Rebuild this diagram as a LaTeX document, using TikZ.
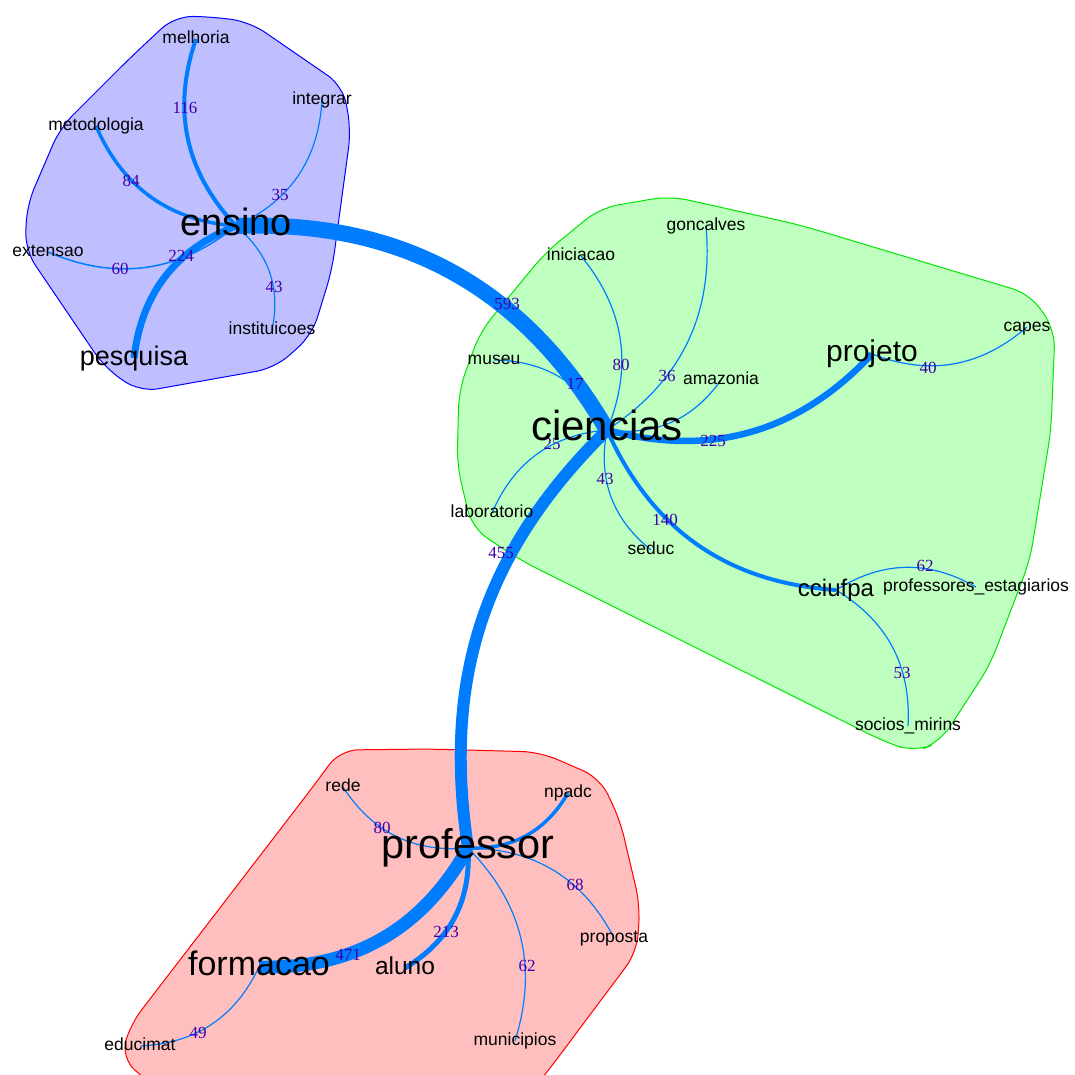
\documentclass[tikz,border=0pt]{standalone}
\usepackage{fontspec}
\setmainfont{Liberation Serif}
\newfontfamily\lab{Liberation Sans}
\definecolor{ecol}{RGB}{0,125,255}
\definecolor{lcol}{RGB}{60,0,170}
\definecolor{bfill}{RGB}{191,191,255}
\definecolor{bline}{RGB}{0,0,255}
\definecolor{gfill}{RGB}{191,255,191}
\definecolor{gline}{RGB}{0,230,0}
\definecolor{rfill}{RGB}{255,191,191}
\definecolor{rline}{RGB}{255,0,0}
\pgfdeclarelayer{hl}
\pgfdeclarelayer{ed}
\pgfsetlayers{hl,ed,main}
\begin{document}
\begin{tikzpicture}[x=1pt,y=-1pt,
  vl/.code={\pgfmathsetmacro\vlh{0.52*#1}\pgfkeysalso{inner sep=0pt, text depth=0pt, text height=\vlh pt, font=\lab\fontsize{#1pt}{#1pt}\selectfont}},
  el/.style={inner sep=0pt, text=lcol, font=\fontsize{17pt}{17pt}\selectfont},
  edg/.style={draw=ecol, line width=#1pt},
  bl/.style={bend left=31}, br/.style={bend right=31},
  hull/.style={line width=1pt, rounded corners=18pt}]
\path[use as bounding box] (0,0) rectangle (1075,1075);

% ---------- vertices ----------
\node[vl=38] (ensino) at (236,226) {ensino};
\node[vl=17.5] (melhoria) at (196,39) {melhoria};
\node[vl=17.5] (integrar) at (322,100) {integrar};
\node[vl=17.5] (metodologia) at (96,126) {metodologia};
\node[vl=17.5] (extensao) at (48,252) {extensao};
\node[vl=17.5] (instituicoes) at (272,330) {instituicoes};
\node[vl=27] (pesquisa) at (134,358) {pesquisa};
\node[vl=42] (ciencias) at (607,430) {ciencias};
\node[vl=17.5] (iniciacao) at (581,256) {iniciacao};
\node[vl=17.5] (goncalves) at (706,226) {goncalves};
\node[vl=17.5] (museu) at (494,360) {museu};
\node[vl=17.5] (amazonia) at (721,380) {amazonia};
\node[vl=30] (projeto) at (872,354) {projeto};
\node[vl=17.5] (capes) at (1027,327) {capes};
\node[vl=17.5] (laboratorio) at (492,513) {laboratorio};
\node[vl=17.5] (seduc) at (651,550) {seduc};
\node[vl=24] (cciufpa) at (836,590) {cciufpa};
\node[vl=17.5] (profest) at (976,587) {professores\_estagiarios};
\node[vl=17.5] (socios) at (908,726) {socios\_mirins};
\node[vl=41.5] (professor) at (468,848) {professor};
\node[vl=17.5] (rede) at (343,787) {rede};
\node[vl=17.5] (npadc) at (568,793) {npadc};
\node[vl=17.5] (proposta) at (614,938) {proposta};
\node[vl=34] (formacao) at (259,967) {formacao};
\node[vl=24.5] (aluno) at (405,968) {aluno};
\node[vl=17.5] (educimat) at (140,1046) {educimat};
\node[vl=17.5] (municipios) at (515,1041) {municipios};

% ---------- hulls ----------
\begin{pgfonlayer}{hl}
\begin{scope}
\clip (0,0) rectangle (1075,1075);
\draw[hull, fill=bfill, draw=bline] (215,17) -- (250,22) -- (343,86) -- (351,130) -- (332,270) -- (312,335) -- (275,368) -- (140,392) -- (105,368) -- (25,250) -- (27,205) -- (60,128) -- (130,58) -- (175,16) -- cycle;
\draw[hull, fill=gfill, draw=gline] (800,225) -- (1030,294) -- (1055,330) -- (1051,430) -- (1030,560) -- (990,665) -- (940,742) -- (915,752) -- (885,742) -- (520,560) -- (472,528) -- (457,465) -- (459,390) -- (480,332) -- (545,253) -- (600,208) -- (670,196) -- cycle;
\draw[hull, fill=rfill, draw=rline] (430,749) -- (540,752) -- (600,778) -- (620,820) -- (640,905) -- (637,952) -- (545,1075) -- (530,1092) -- (160,1092) -- (121,1058) -- (130,1025) -- (312,788) -- (340,750) -- cycle;
\end{scope}
\end{pgfonlayer}

% ---------- edges ----------
\begin{pgfonlayer}{ed}
% thin edges
\draw[edg=1.2] (ensino.center) to[br] (integrar.center);
\draw[edg=1.5] (ensino.center) to[bl] (extensao.center);
\draw[edg=1.2] (ensino.center) to[bl] (instituicoes.center);
\draw[edg=1.2] (ciencias.center) to[br] (iniciacao.center);
\draw[edg=1.2] (ciencias.center) to[br] (goncalves.center);
\draw[edg=1.2] (ciencias.center) to[br] (museu.center);
\draw[edg=1.2] (ciencias.center) to[br] (amazonia.center);
\draw[edg=1.2] (projeto.center) to[br] (capes.center);
\draw[edg=1.2] (ciencias.center) to[br] (laboratorio.center);
\draw[edg=1.2] (ciencias.center) to[br] (seduc.center);
\draw[edg=1.2] (cciufpa.center) to[bl] (profest.center);
\draw[edg=1.2] (cciufpa.center) to[bl] (socios.center);
\draw[edg=1.2] (professor.center) to[bl] (rede.center);
\draw[edg=1.2] (professor.center) to[bl] (proposta.center);
\draw[edg=1.2] (professor.center) to[bl] (municipios.center);
\draw[edg=1.2] (formacao.center) to[bl] (educimat.center);
% medium edges
\draw[edg=4] (ensino.center) to[bl] (melhoria.center);
\draw[edg=3.5] (ensino.center) to[bl] (metodologia.center);
\draw[edg=4] (ciencias.center) to[br] (cciufpa.center);
\draw[edg=3.5] (professor.center) to[br] (npadc.center);
\draw[edg=5] (professor.center) to[bl] (aluno.center);
\draw[edg=6.5] (ciencias.center) to[br] (projeto.center);
\draw[edg=7] (ensino.center) to[br] (pesquisa.center);
% thick edges
\draw[edg=12] (ciencias.center) to[bend right=27] (professor.center);
\draw[edg=13] (professor.center) to[bl] (formacao.center);
\draw[edg=16] (ensino.center) to[bl] (ciencias.center);

% edge labels
\node[el] (l116) at (185,108) {116};
\node[el] (l84) at (131,181) {84};
\node[el] (l35) at (280,195) {35};
\node[el] (l60) at (120,269) {60};
\node[el] (l224) at (181,256) {224};
\node[el] (l43a) at (274,287) {43};
\node[el] (l593) at (507,304) {593};
\node[el] (l80a) at (621,365) {80};
\node[el] (l36) at (667,376) {36};
\node[el] (l17) at (575,384) {17};
\node[el] (l225) at (713,441) {225};
\node[el] (l40) at (928,368) {40};
\node[el] (l25) at (552,444) {25};
\node[el] (l43b) at (605,479) {43};
\node[el] (l140) at (665,520) {140};
\node[el] (l62a) at (925,566) {62};
\node[el] (l53) at (902,673) {53};
\node[el] (l455) at (501,553) {455};
\node[el] (l80b) at (382,828) {80};
\node[el] (l68) at (575,885) {68};
\node[el] (l62b) at (527,966) {62};
\node[el] (l213) at (446,932) {213};
\node[el] (l471) at (348,955) {471};
\node[el] (l49) at (198,1033) {49};
\end{pgfonlayer}
\end{tikzpicture}
\end{document}
